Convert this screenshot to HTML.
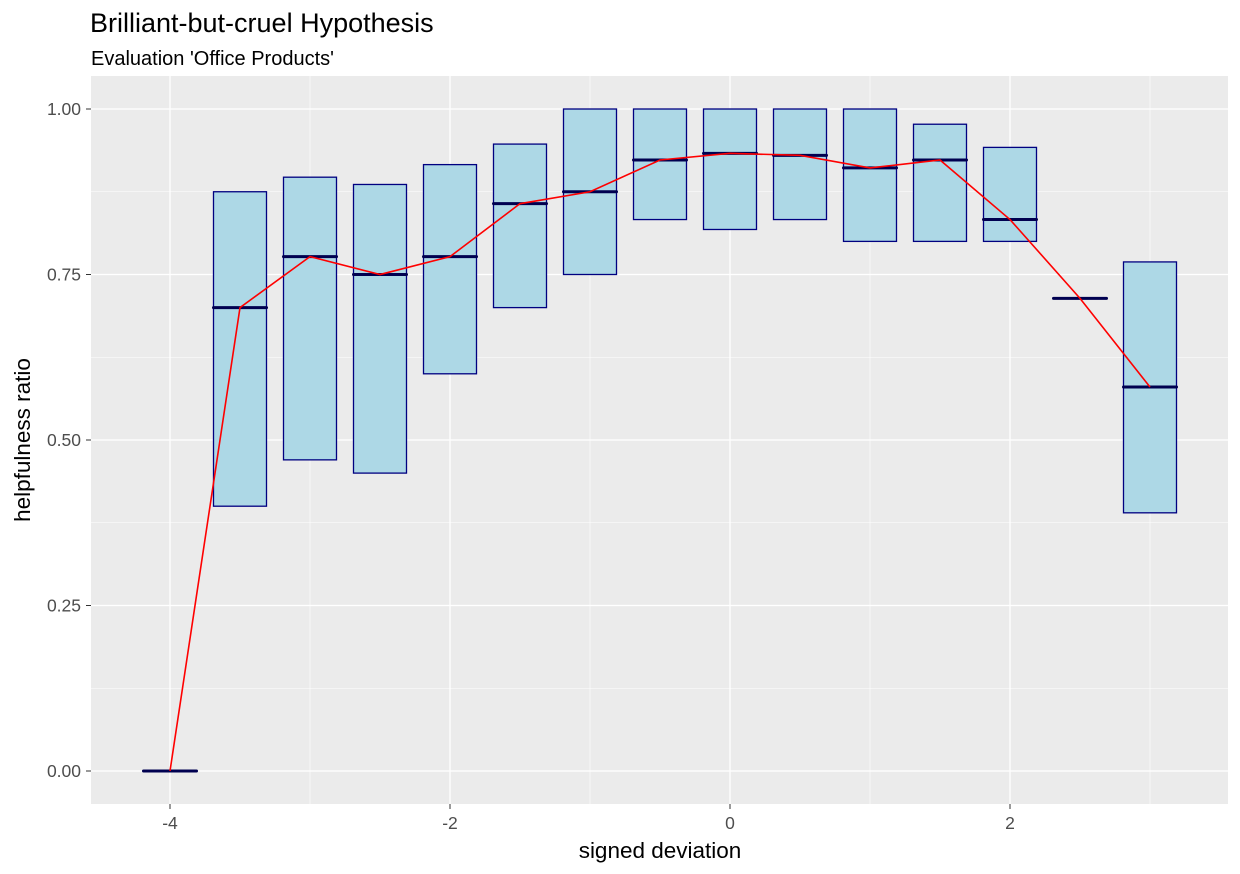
<!DOCTYPE html>
<html><head><meta charset="utf-8"><style>
body{margin:0;background:#fff;font-family:"Liberation Sans",sans-serif;}
svg{display:block}
</style></head><body>
<svg id="chart" width="1240" height="874" font-family="Liberation Sans, sans-serif">
<text x="90" y="32" font-size="27" fill="#000">Brilliant-but-cruel Hypothesis</text>
<text x="91" y="65" font-size="20" fill="#000">Evaluation 'Office Products'</text>
<rect x="91" y="76" width="1137" height="728" fill="#ebebeb"/>
<g id="grid"></g>
<g id="boxes"></g>
<g id="meanline"></g>
<g id="axes"></g>
<text x="660" y="858" font-size="22.5" text-anchor="middle" fill="#000">signed deviation</text>
<text transform="translate(30,440) rotate(-90)" font-size="22.5" text-anchor="middle" fill="#000">helpfulness ratio</text>
</svg>
<script>
const categories=[-4,-3.5,-3,-2.5,-2,-1.5,-1,-0.5,0,0.5,1,1.5,2,2.5,3];
const lowerQ=[0,0.40,0.47,0.45,0.60,0.70,0.75,0.833,0.818,0.833,0.80,0.80,0.80,0.714,0.39];
const upperQ=[0,0.875,0.897,0.886,0.916,0.947,1.0,1.0,1.0,1.0,1.0,0.977,0.942,0.714,0.769];
const medians=[0,0.70,0.777,0.75,0.777,0.857,0.875,0.923,0.933,0.93,0.911,0.923,0.833,0.714,0.58];
const means=[0,0.70,0.777,0.75,0.777,0.857,0.875,0.923,0.933,0.93,0.911,0.923,0.833,0.714,0.58];
const xTicks=[-4,-2,0,2];
const xTickLabels=["-4","-2","0","2"];
const yTicks=[0,0.25,0.5,0.75,1];
const yTickLabels=["0.00","0.25","0.50","0.75","1.00"];

const NS="http://www.w3.org/2000/svg";
const xs=v=>730+v*140;
const ys=v=>771-v*662;
const L=91,R=1228,T=76,B=804;
function mk(tag,attrs,parent){const e=document.createElementNS(NS,tag);for(const k in attrs)e.setAttribute(k,attrs[k]);parent.appendChild(e);return e;}
const grid=document.getElementById('grid'),boxes=document.getElementById('boxes'),ml=document.getElementById('meanline'),axes=document.getElementById('axes');
for(let i=0;i<yTicks.length-1;i++){const v=(yTicks[i]+yTicks[i+1])/2;const l=mk('line',{x1:L,x2:R,y1:ys(v),y2:ys(v),stroke:'#fff','stroke-width':0.6},grid);

}
for(let i=0;i<xTicks.length;i++){const v=xTicks[i]+1;const l=mk('line',{x1:xs(v),x2:xs(v),y1:T,y2:B,stroke:'#fff','stroke-width':0.6},grid);

}
yTicks.forEach((v,i)=>{const l=mk('line',{x1:L,x2:R,y1:ys(v),y2:ys(v),stroke:'#fff','stroke-width':1.3},grid);


const t=mk('line',{x1:L-5,x2:L,y1:ys(v),y2:ys(v),stroke:'#333','stroke-width':1},axes);


const tx=mk('text',{x:L-10,y:ys(v)+6,'font-size':17.5,'text-anchor':'end',fill:'#4d4d4d'},axes);tx.textContent=yTickLabels[i];

});
xTicks.forEach((v,i)=>{const l=mk('line',{x1:xs(v),x2:xs(v),y1:T,y2:B,stroke:'#fff','stroke-width':1.3},grid);


const t=mk('line',{x1:xs(v),x2:xs(v),y1:B,y2:B+5,stroke:'#333','stroke-width':1},axes);


const tx=mk('text',{x:xs(v),y:B+25,'font-size':17.5,'text-anchor':'middle',fill:'#4d4d4d'},axes);tx.textContent=xTickLabels[i];

});
const hw=26.5;
categories.forEach((c,i)=>{const x=xs(c);
const r=mk('rect',{x:x-hw,y:ys(upperQ[i]),width:2*hw,height:Math.max(0,ys(lowerQ[i])-ys(upperQ[i])),fill:'#add8e6',stroke:'#000080','stroke-width':1.3},boxes);


const m=mk('line',{x1:x-hw,x2:x+hw,y1:ys(medians[i]),y2:ys(medians[i]),stroke:'#000050','stroke-width':3,'stroke-linecap':'round'},boxes);

});
const p=mk('polyline',{points:categories.map((c,i)=>xs(c)+','+ys(means[i])).join(' '),fill:'none',stroke:'#ff0000','stroke-width':1.6},ml);


</script>
</body></html>
